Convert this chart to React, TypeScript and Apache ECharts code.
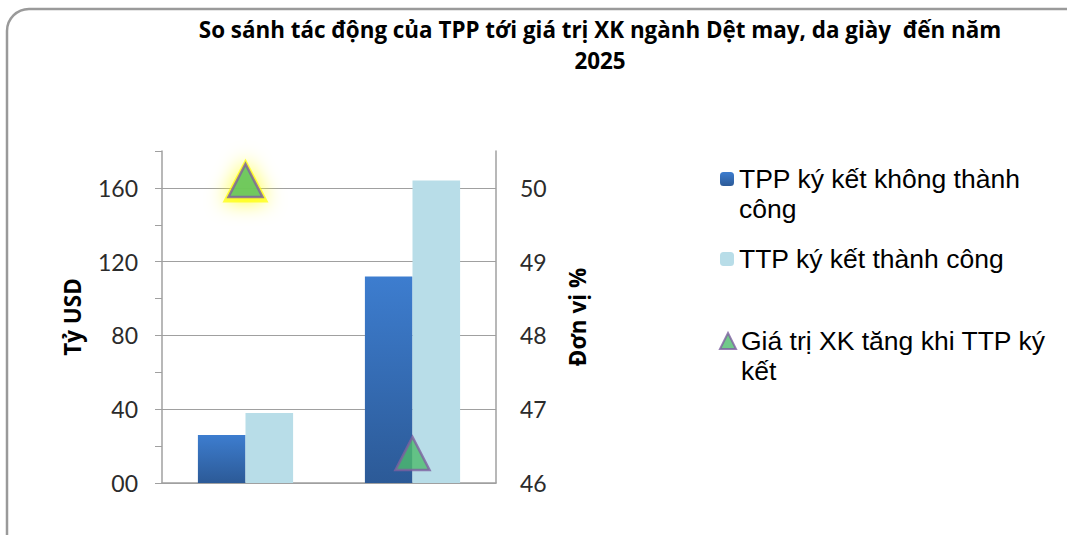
import React, { useEffect, useRef } from "react";
import * as echarts from "echarts";

const titleText = "So sánh tác động của TPP tới giá trị XK ngành Dệt may, da giày  đến năm\n2025";
const categories = ["Dệt may", "Da giày"];
const seriesNames = [
  "TPP ký kết không thành công",
  "TTP ký kết thành công",
  "Giá trị XK tăng khi TTP ký kết",
];
const legendLabels = [
  "\nTPP ký kết không thành\ncông",
  "TTP ký kết thành công",
  "\nGiá trị XK tăng khi TTP ký\nkết",
];
const failValues = [26, 112];
const successValues = [38, 164];
const growthPct = [50.1, 46.4];
const highlightedIndex = 0;
const leftTicks = [0, 40, 80, 120, 160];
const rightTicks = [46, 47, 48, 49, 50];

export default function App() {
  const ref = useRef<HTMLDivElement>(null);
  useEffect(() => {
    const chart = echarts.init(ref.current!, null, { renderer: "svg" });
    const legendText = {
      fontFamily: "Liberation Sans, Arial, sans-serif",
      fontSize: 26.5,
      color: "#000",
      lineHeight: 30,
    };
    chart.setOption({
      animation: false,
      backgroundColor: "#fff",
      title: {
        text: titleText,
        left: 595,
        top: 9,
        textAlign: "center",
        textStyle: {
          fontFamily: "Open Sans, sans-serif",
          fontWeight: "bold",
          fontSize: 22.4,
          lineHeight: 31,
          color: "#000",
        },
      },
      graphic: [
        {
          type: "rect",
          shape: { x: 7, y: 9, width: 1080, height: 560, r: 22 },
          style: { fill: "none", stroke: "#9a9a9a", lineWidth: 2.5 },
          silent: true,
          z: 100,
        },
      ],
      legend: [
        {
          data: [{ name: seriesNames[0] }],
          left: 720,
          top: 134,
          padding: 0,
          itemWidth: 14,
          itemHeight: 14,
          formatter: () => legendLabels[0],
          textStyle: legendText,
        },
        {
          data: [{ name: seriesNames[1] }],
          left: 720,
          top: 244,
          padding: 0,
          itemWidth: 14,
          itemHeight: 14,
          formatter: () => legendLabels[1],
          textStyle: legendText,
        },
        {
          data: [{ name: seriesNames[2] }],
          left: 719,
          top: 296,
          padding: 0,
          itemWidth: 16,
          itemHeight: 16,
          formatter: () => legendLabels[2],
          textStyle: legendText,
        },
      ],
      grid: { left: 162, right: 571, top: 151, bottom: 52 },
      xAxis: {
        type: "category",
        data: categories,
        axisLabel: { show: false },
        axisTick: { show: false },
        axisLine: { lineStyle: { color: "#a0a0a0", width: 1.5 } },
      },
      yAxis: [
        {
          type: "value",
          min: 0,
          max: 180,
          interval: 40,
          name: "Tỷ USD",
          nameLocation: "middle",
          nameRotate: 90,
          nameGap: 78,
          nameTextStyle: { fontFamily: "Open Sans, sans-serif", fontWeight: "bold", fontSize: 22.5, color: "#000" },
          axisLine: { show: true, lineStyle: { color: "#a0a0a0", width: 1.5 } },
          axisTick: { show: true, length: 7, lineStyle: { color: "#a0a0a0" } },
          minorTick: { show: true, splitNumber: 2, length: 7, lineStyle: { color: "#a0a0a0" } },
          axisLabel: {
            margin: 24,
            fontFamily: "Lato, sans-serif",
            fontSize: 23,
            color: "#2b2b2b",
            showMaxLabel: false,
            formatter: (v: number) => (leftTicks.includes(v) ? (v === 0 ? "00" : String(v)) : ""),
          },
          splitLine: { show: true, showMaxLine: false, lineStyle: { color: "#a0a0a0", width: 1.2 } },
        },
        {
          type: "value",
          min: 46,
          max: 50.5,
          interval: 1,
          position: "right",
          name: "Đơn vị %",
          nameLocation: "middle",
          nameRotate: 90,
          nameGap: 70,
          nameTextStyle: { fontFamily: "Open Sans, sans-serif", fontWeight: "bold", fontSize: 22.5, color: "#000" },
          axisLine: { show: true, lineStyle: { color: "#a0a0a0", width: 1.5 } },
          axisTick: { show: false },
          axisLabel: {
            margin: 24,
            fontFamily: "Lato, sans-serif",
            fontSize: 23,
            color: "#2b2b2b",
            showMaxLabel: false,
            formatter: (v: number) => (rightTicks.includes(v) ? String(v) : ""),
          },
          splitLine: { show: false },
        },
      ],
      series: [
        {
          name: seriesNames[0],
          type: "bar",
          data: failValues,
          barGap: "0%",
          barCategoryGap: "43%",
          itemStyle: {
            color: new echarts.graphic.LinearGradient(0, 0, 0, 1, [
              { offset: 0, color: "#3d7dcf" },
              { offset: 1, color: "#2c5a97" },
            ]),
          },
        },
        {
          name: seriesNames[1],
          type: "bar",
          data: successValues,
          itemStyle: { color: "#b8dde8" },
        },
        {
          name: "glow",
          type: "scatter",
          yAxisIndex: 1,
          symbol: "triangle",
          symbolSize: [46, 44],
          silent: true,
          z: 4,
          data: growthPct.map((v, i) => (i === highlightedIndex ? v : null)),
          itemStyle: {
            color: "rgba(255,255,0,0.9)",
            shadowBlur: 20,
            shadowColor: "#ffff00",
          },
        },
        {
          name: seriesNames[2],
          type: "scatter",
          yAxisIndex: 1,
          symbol: "triangle",
          symbolSize: [34, 33],
          z: 5,
          data: growthPct,
          itemStyle: { color: "#4dbc6d", borderColor: "#7d60a0", borderWidth: 2.5 },
        },
      ],
    });
    return () => chart.dispose();
  }, []);
  return (
    <div
      ref={ref}
      style={{ position: "absolute", left: 0, top: 0, width: 1067, height: 535 }}
    />
  );
}
